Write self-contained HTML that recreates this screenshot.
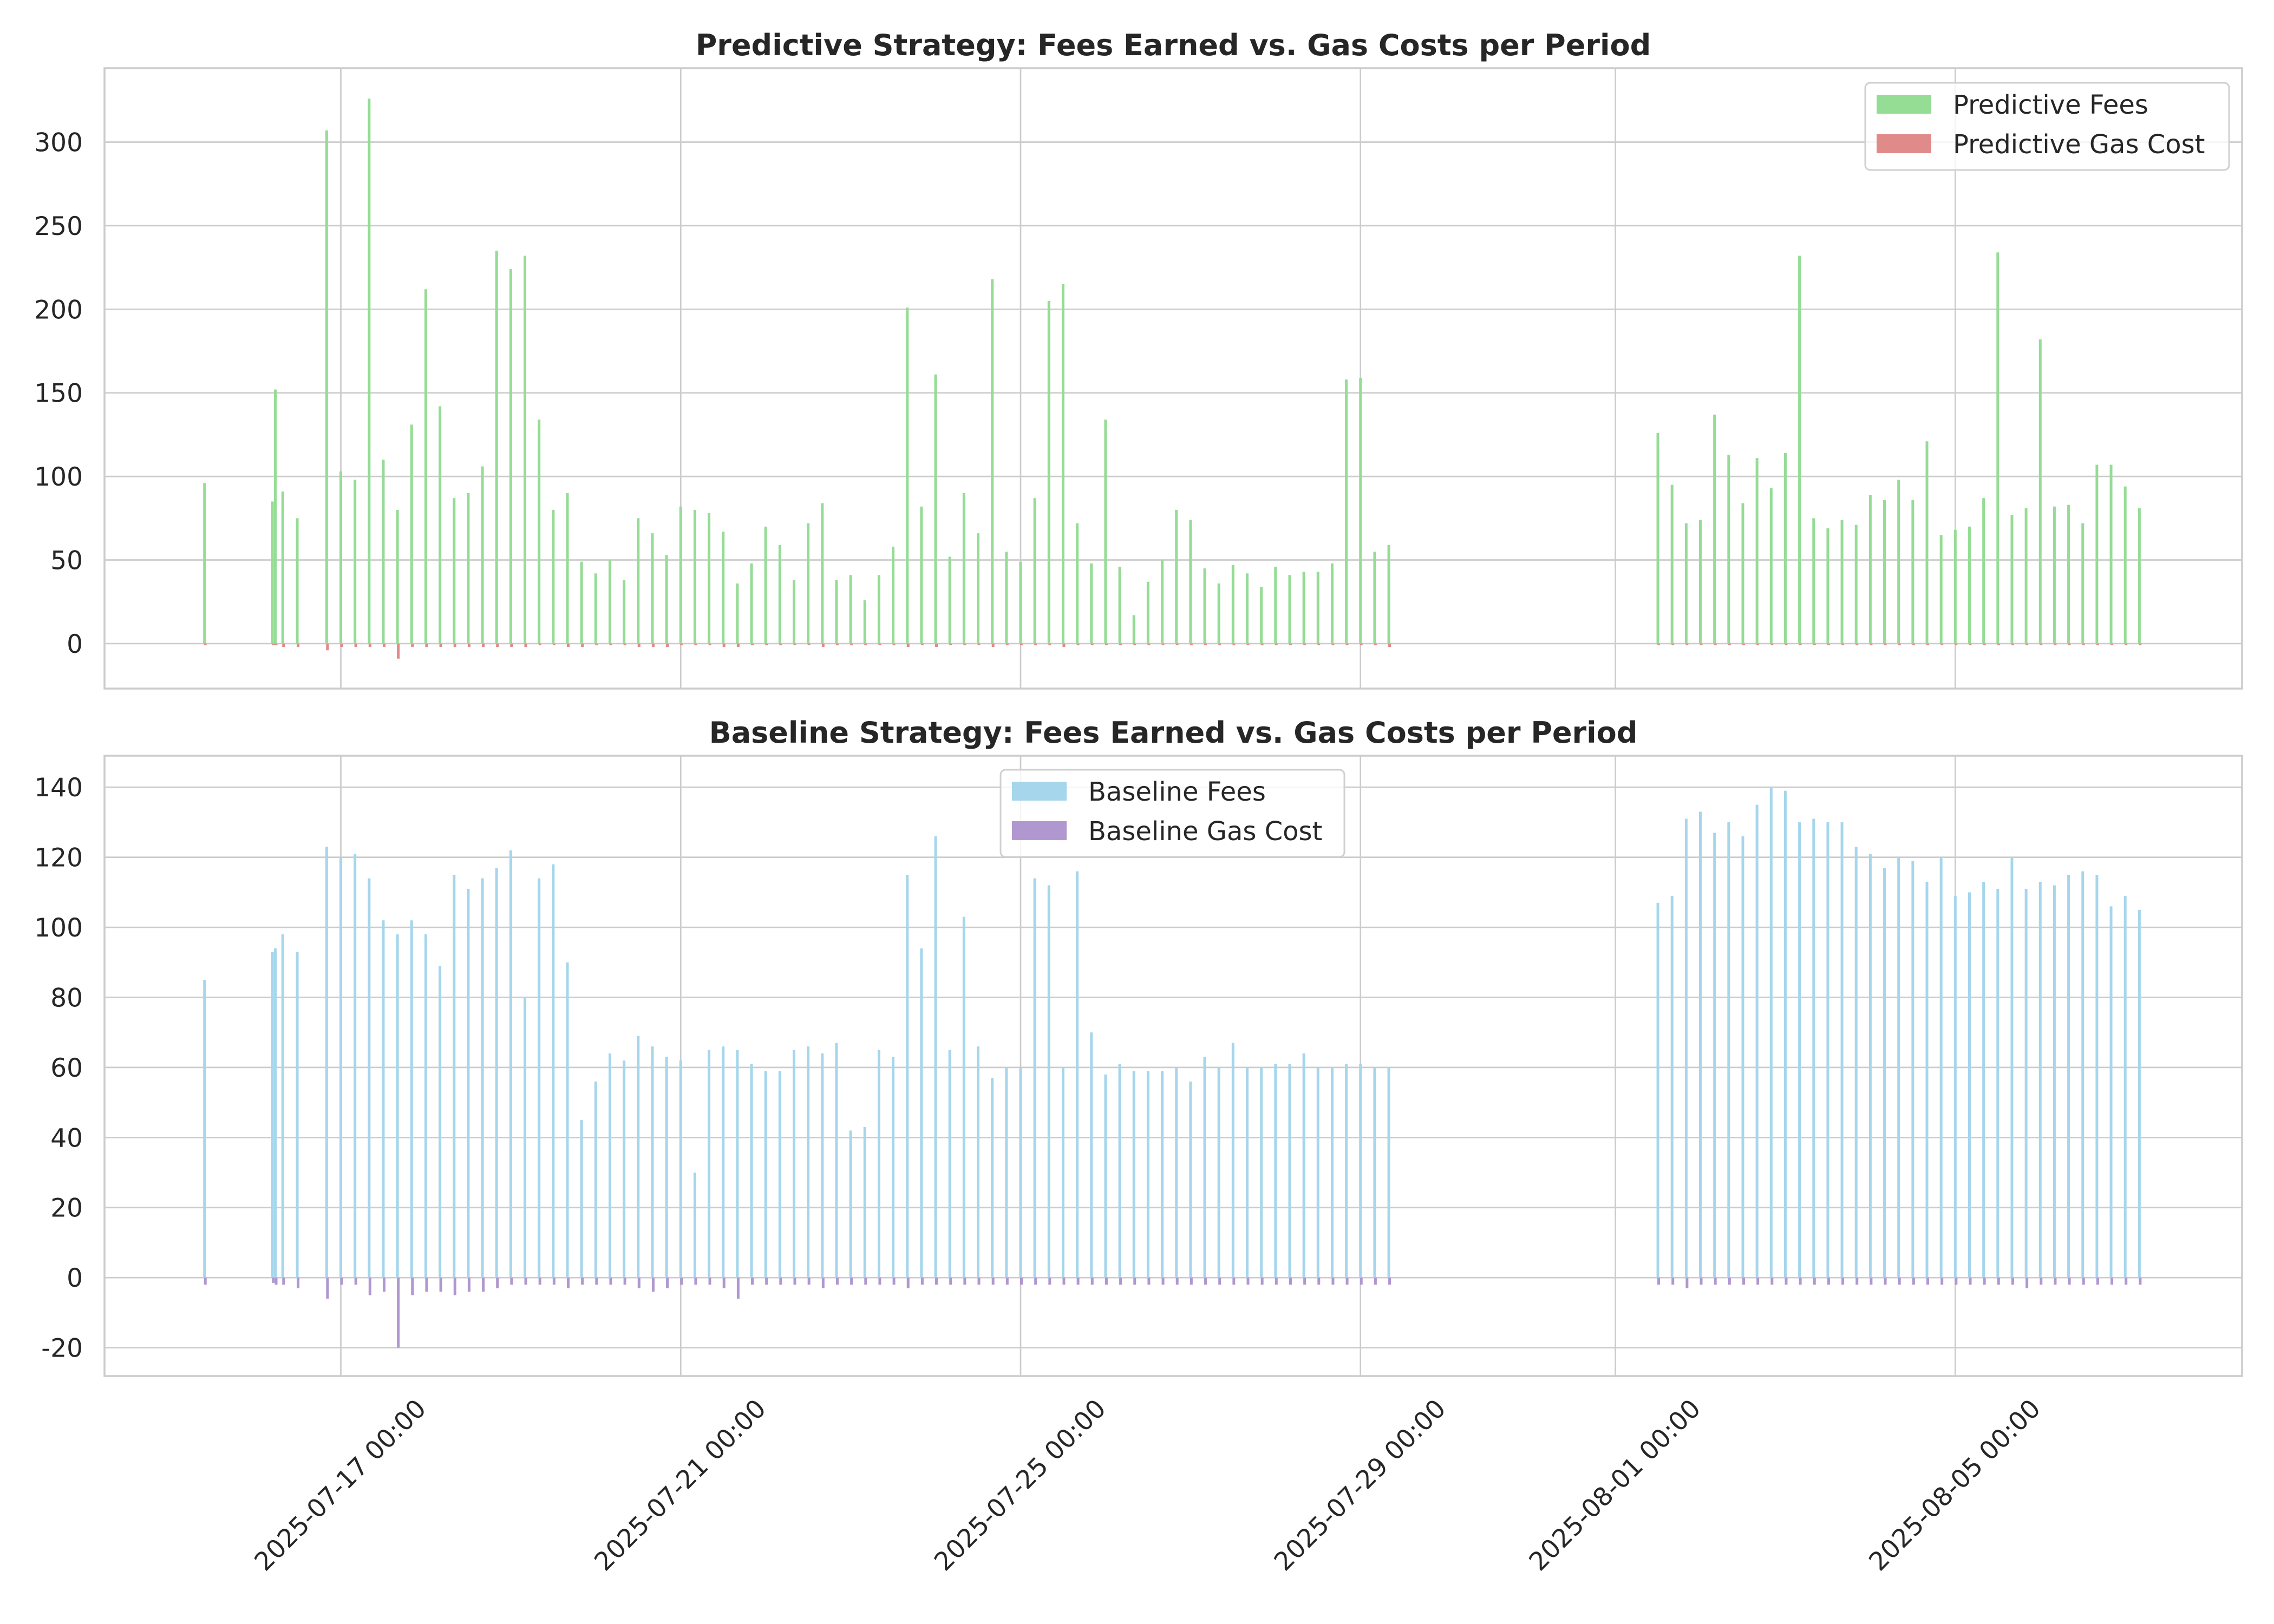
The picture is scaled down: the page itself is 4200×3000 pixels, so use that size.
<!DOCTYPE html>
<html><head><meta charset="utf-8"><style>
html,body{margin:0;padding:0;background:#fff;}
svg{display:block;font-family:"DejaVu Sans","Liberation Sans",sans-serif;}
</style></head><body>
<svg id="chart" width="4200" height="3000" viewBox="0 0 4200 3000" xmlns="http://www.w3.org/2000/svg"></svg>
<script>
// x positions: hours relative to 2025-07-17 00:00
const firstHours = [-38.5, -19.3, -18.5, -16.4, -12.3];
const runA = {start: -4, count: 76};
const runB = {start: 372, count: 35};
const predFees = [96,85,152,91,75,
307,103,98,326,110,80,131,212,142,87,90,106,235,224,232,134,80,90,49,42,50,38,75,66,53,82,80,78,67,36,48,70,59,38,72,84,38,41,26,41,58,201,82,161,52,90,66,218,55,49,87,205,215,72,48,134,46,17,37,50,80,74,45,36,47,42,34,46,41,43,43,48,158,159,55,59,
126,95,72,74,137,113,84,111,93,114,232,75,69,74,71,89,86,98,86,121,65,68,70,87,234,77,81,182,82,83,72,107,107,94,81];
const predGas = [-1,-1,-1,-2,-2,
-4,-2,-2,-2,-2,-9,-2,-2,-2,-2,-2,-2,-2,-2,-2,-1,-1,-2,-2,-1,-1,-1,-2,-2,-2,-1,-1,-1,-2,-2,-1,-1,-1,-1,-1,-2,-1,-1,-1,-1,-1,-2,-1,-2,-1,-1,-1,-2,-1,-1,-1,-1,-2,-1,-1,-1,-1,-1,-1,-1,-1,-1,-1,-1,-1,-1,-1,-1,-1,-1,-1,-1,-1,-1,-1,-2,
-1,-1,-1,-1,-1,-1,-1,-1,-1,-1,-1,-1,-1,-1,-1,-1,-1,-1,-1,-1,-1,-1,-1,-1,-1,-1,-1,-1,-1,-1,-1,-1,-1,-1,-1];
const baseFees = [85,93,94,98,93,
123,120,121,114,102,98,102,98,89,115,111,114,117,122,80,114,118,90,45,56,64,62,69,66,63,62,30,65,66,65,61,59,59,65,66,64,67,42,43,65,63,115,94,126,65,103,66,57,60,60,114,112,60,116,70,58,61,59,59,59,60,56,63,60,67,60,60,61,61,64,60,60,61,61,60,60,
107,109,131,133,127,130,126,135,140,139,130,131,130,130,123,121,117,120,119,113,120,109,110,113,111,120,111,113,112,115,116,115,106,109,105];
const baseGas = [-2,-1.5,-2,-2,-3,
-6,-2,-2,-5,-4,-20,-5,-4,-4,-5,-4,-4,-3,-2,-2,-2,-2,-3,-2,-2,-2,-2,-3,-4,-3,-2,-2,-2,-3,-6,-2,-2,-2,-2,-2,-3,-2,-2,-2,-2,-2,-3,-2,-2,-2,-2,-2,-2,-2,-2,-2,-2,-2,-2,-2,-2,-2,-2,-2,-2,-2,-2,-2,-2,-2,-2,-2,-2,-2,-2,-2,-2,-2,-2,-2,-2,
-2,-2,-3,-2,-2,-2,-2,-2,-2,-2,-2,-2,-2,-2,-2,-2,-2,-2,-2,-2,-2,-2,-2,-2,-2,-2,-3,-2,-2,-2,-2,-2,-2,-2,-2];
const dateTickHours = [0,96,192,288,360,456];
const dateTickLabels = ["2025-07-17 00:00","2025-07-21 00:00","2025-07-25 00:00","2025-07-29 00:00","2025-08-01 00:00","2025-08-05 00:00"];
const topTicks = [0,50,100,150,200,250,300];
const botTicks = [-20,0,20,40,60,80,100,120,140];

const hours = firstHours.slice();
for (let i=0;i<runA.count;i++) hours.push(runA.start+4*i);
for (let i=0;i<runB.count;i++) hours.push(runB.start+4*i);

const NS="http://www.w3.org/2000/svg";
const svg=document.getElementById('chart');
function mk(tag,attrs,parent){const e=document.createElementNS(NS,tag);for(const k in attrs)e.setAttribute(k,attrs[k]);(parent||svg).appendChild(e);return e;}
const L=193,R=4141;
const xmin=-66.75,xmax=537.0;
const X=h=>L+(h-xmin)/(xmax-xmin)*(R-L);

function panel(cfg){
  const g=mk('g',{});
  
  
  const Y=v=>cfg.bot-(v-cfg.ymin)/(cfg.ymax-cfg.ymin)*(cfg.bot-cfg.top);
  cfg.ticks.forEach(t=>{
    const ln=mk('line',{x1:L,x2:R,y1:Y(t),y2:Y(t),stroke:'#cccccc','stroke-width':2.7},g);
    
    
    const tx=mk('text',{x:153,y:Y(t)+17,'text-anchor':'end','font-size':47,fill:'#262626'},g);
    tx.textContent=t;
    
    
  });
  dateTickHours.forEach(h=>{
    const ln=mk('line',{x1:X(h),x2:X(h),y1:cfg.top,y2:cfg.bot,stroke:'#cccccc','stroke-width':2.7},g);
    
    
  });
  hours.forEach((h,i)=>{
    const f=cfg.fees[i], c=cfg.gas[i];
    const b=mk('rect',{x:X(h)-2.5,y:Math.min(Y(f),Y(0)),width:5,height:Math.abs(Y(f)-Y(0)),fill:cfg.fc},g);
    
    
    const gb=mk('rect',{x:X(h)-1,y:Math.min(Y(c),Y(0)),width:5,height:Math.abs(Y(c)-Y(0)),fill:cfg.gc},g);
    
    
  });
  const fr=mk('rect',{x:L,y:cfg.top,width:R-L,height:cfg.bot-cfg.top,fill:'none',stroke:'#cccccc','stroke-width':3.5},g);
  
  
  const ti=mk('text',{x:(L+R)/2,y:cfg.top-24,'text-anchor':'middle','font-size':54,'font-weight':'bold',fill:'#262626'},g);
  ti.textContent=cfg.title;
  
  
  const lg=mk('g',{},g);
  
  
  const lx=cfg.lx,ly=cfg.ly;
  mk('rect',{x:lx,y:ly,width:cfg.lw,height:161,rx:9,fill:'rgba(255,255,255,0.8)',stroke:'#d0d0d0','stroke-width':3},lg);
  [[cfg.fc,cfg.l1],[cfg.gc,cfg.l2]].forEach((e,k)=>{
    const en=mk('g',{},lg);
    
    
    mk('rect',{x:lx+21,y:ly+22+k*73,width:101,height:35,fill:e[0]},en);
    const t=mk('text',{x:lx+162,y:ly+57+k*73,'font-size':48,fill:'#262626'},en);
    t.textContent=e[1];
  });
}
panel({name:'predictive-panel',top:126,bot:1272,ymin:-26.9,ymax:344.2,ticks:topTicks,fees:predFees,gas:predGas,
  fc:'#95dc95',gc:'#e08a8a',title:'Predictive Strategy: Fees Earned vs. Gas Costs per Period',
  l1:'Predictive Fees',l2:'Predictive Gas Cost',lx:3445,ly:153,lw:672});
panel({name:'baseline-panel',top:1396,bot:2542,ymin:-28.1,ymax:149,ticks:botTicks,fees:baseFees,gas:baseGas,
  fc:'#a6d6ec',gc:'#b197cf',title:'Baseline Strategy: Fees Earned vs. Gas Costs per Period',
  l1:'Baseline Fees',l2:'Baseline Gas Cost',lx:1848,ly:1422,lw:635});
dateTickHours.forEach((h,i)=>{
  const x=X(h)+160,y=2605;
  const t=mk('text',{x:x,y:y,'text-anchor':'end','font-size':47,fill:'#262626',transform:`rotate(-45 ${x} ${y})`});
  t.textContent=dateTickLabels[i];
  
  
});
</script>
</body></html>
